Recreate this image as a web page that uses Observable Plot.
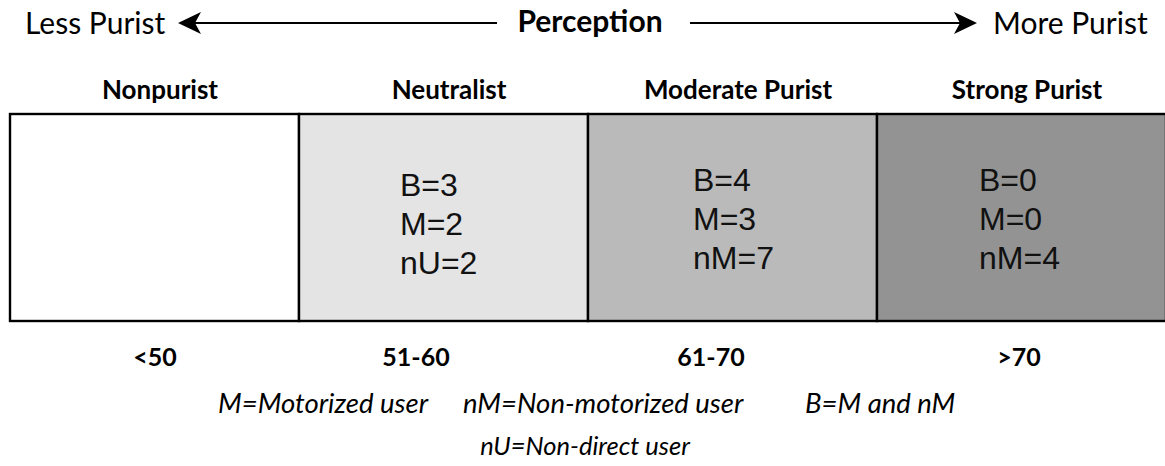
<!DOCTYPE html>
<html>
<head>
<meta charset="utf-8">
<script src="https://cdn.jsdelivr.net/npm/d3@7"></script>
<script src="https://cdn.jsdelivr.net/npm/@observablehq/plot@0.6"></script>
<style>
  body { margin: 0; background: #fff; }
  #wrap { width: 1165px; height: 466px; overflow: hidden; display: flex; flex-direction: column; background: #fff; }
  #wrap svg { display: block; }
</style>
</head>
<body>
<div id="wrap"></div>
<script>
// ---- data ----
const categories = ["Nonpurist", "Neutralist", "Moderate Purist", "Strong Purist"];
const ranges = ["<50", "51-60", "61-70", ">70"];
const bothCounts = [null, 3, 4, 0];          // B
const motorizedCounts = [null, 2, 3, 0];     // M
const thirdKeys = [null, "nU", "nM", "nM"];  // third group label
const thirdCounts = [null, 2, 7, 4];
const scaleLabels = ["Less Purist", "Perception", "More Purist"];
const legendRow1 = ["M=Motorized user", "nM=Non-motorized user", "B=M and nM"];
const legendRow2 = ["nU=Non-direct user"];

const rows = categories.map((c, i) => ({
  category: c,
  range: ranges[i],
  label: bothCounts[i] == null ? "" :
    `B=${bothCounts[i]}\nM=${motorizedCounts[i]}\n${thirdKeys[i]}=${thirdCounts[i]}`
}));

const wrap = document.getElementById("wrap");
const calib = "Lato, 'Open Sans', sans-serif";

// ---- top perception row (annotation) ----
const topRow = d3.create("svg").attr("width", 1165).attr("height", 60);
topRow.append("text").attr("x", 25).attr("y", 34).attr("font-family", calib).attr("font-size", 30)
  .text(scaleLabels[0]);
topRow.append("text").attr("x", 590).attr("y", 32).attr("text-anchor", "middle").attr("font-family", calib)
  .attr("font-weight", "bold").attr("font-size", 30).text(scaleLabels[1]);
topRow.append("text").attr("x", 993).attr("y", 34).attr("font-family", calib).attr("font-size", 30)
  .text(scaleLabels[2]);
topRow.append("line").attr("x1", 192).attr("x2", 497).attr("y1", 23).attr("y2", 23).attr("stroke", "#000").attr("stroke-width", 2.2);
topRow.append("line").attr("x1", 690).attr("x2", 964).attr("y1", 23).attr("y2", 23).attr("stroke", "#000").attr("stroke-width", 2.2);
topRow.append("path").attr("d", "M178,23 L201,12 L195,23 L201,34 Z").attr("fill", "#000");
topRow.append("path").attr("d", "M977,23 L954,12 L960,23 L954,34 Z").attr("fill", "#000");
wrap.append(topRow.node());

// ---- layout nudges (pixels, relative to each band's centre) ----
const rangeNudgeX = [0, -28, -22, -3];
const countNudgeX = [0, -44, -40, -43];
const countNudgeY = [0, 54, 49, 49];

// ---- main chart ----
const chart = Plot.plot({
  width: 1165,
  height: 320,
  marginTop: 54,
  marginBottom: 59,
  marginLeft: 0,
  marginRight: 0,
  style: { background: "transparent", fontFamily: calib, color: "#000" },
  x: { type: "band", domain: categories, range: [9.5, 1165.5], padding: 0, axis: null },
  color: { type: "ordinal", domain: categories, range: ["#ffffff", "#e4e4e4", "#bababa", "#939393"] },
  marks: [
    Plot.cell(rows, { x: "category", fill: "category", stroke: "#000", strokeWidth: 2.4, inset: 0 }),
    Plot.text(rows, {
      x: "category", text: "category", frameAnchor: "top", lineAnchor: "bottom", dy: -16, dx: 5,
      fontFamily: calib, fontWeight: "bold", fontSize: 26, fill: "#000"
    }),
    ...rows.map((r, i) => Plot.text([r], {
      x: "category", text: "range", frameAnchor: "bottom", lineAnchor: "top", dy: 27, dx: rangeNudgeX[i],
      fontFamily: calib, fontWeight: "bold", fontSize: 25, fill: "#000"
    })),
    ...rows.map((r, i) => Plot.text([r], {
      x: "category", text: "label", frameAnchor: "top", lineAnchor: "top", textAnchor: "start",
      dx: countNudgeX[i], dy: countNudgeY[i], lineHeight: 1.22,
      fontFamily: "'Liberation Sans', Arial, sans-serif", fontSize: 32, fill: "#111"
    }))
  ]
});
wrap.append(chart);

// ---- legend (below) ----
const leg = d3.create("svg").attr("width", 1165).attr("height", 86);
const row1x = [218, 463, 805];
legendRow1.forEach((t, i) => {
  leg.append("text").attr("x", row1x[i]).attr("y", 33).attr("font-family", calib)
    .attr("font-style", "italic").attr("font-size", 27.5).text(t);
});
legendRow2.forEach(t => {
  leg.append("text").attr("x", 585).attr("y", 75).attr("text-anchor", "middle").attr("font-family", calib)
    .attr("font-style", "italic").attr("font-size", 25.5).text(t);
});
wrap.append(leg.node());
</script>
</body>
</html>
